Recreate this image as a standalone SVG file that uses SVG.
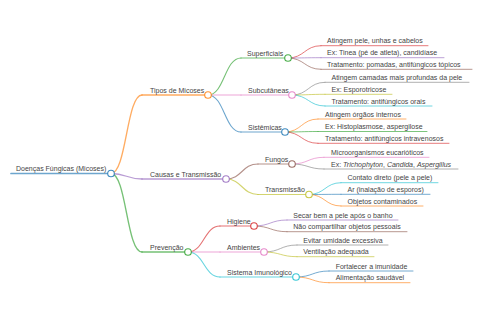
<svg xmlns="http://www.w3.org/2000/svg" width="480" height="320" viewBox="0 0 480 320">
<style>
text{font-family:"Liberation Sans",Arial,sans-serif;font-size:7px;fill:#444}
path,line{fill:none;stroke-linecap:round}
circle{fill:#fff;stroke-width:1.1}
.w0{stroke-width:1.7}.w1{stroke-width:1.3}.w2{stroke-width:1.1}.w3{stroke-width:0.95}
.blue{stroke:#1f77b4}.orange{stroke:#ff7f0e}.green{stroke:#2ca02c}.red{stroke:#d62728}.purple{stroke:#9467bd}
.brown{stroke:#8c564b}.pink{stroke:#e377c2}.gray{stroke:#7f7f7f}.olive{stroke:#bcbd22}.cyan{stroke:#17becf}
g line,#connectors path{stroke-opacity:.65}
circle{stroke-opacity:.85}
</style>
<rect width="480" height="320" fill="#fff"/>
<g id="connectors">
<path class="orange w1" d="M111,173.5 C126.5,173.5 126.5,95 142,95"/>
<path class="purple w1" d="M111,173.5 C126.5,173.5 126.5,179 142,179"/>
<path class="green w1" d="M111,173.5 C126.5,173.5 126.5,252 142,252"/>
<path class="green w2" d="M208,95 C224.5,95 224.5,58 241,58"/>
<path class="pink w2" d="M208,95 L241,95"/>
<path class="blue w2" d="M208,95 C224.5,95 224.5,132 241,132"/>
<path class="brown w2" d="M226,179 C242,179 242,164 258,164"/>
<path class="olive w2" d="M226,179 C242,179 242,194.5 258,194.5"/>
<path class="red w2" d="M188,252 C204,252 204,226 220,226"/>
<path class="pink w2" d="M188,252 L220,252"/>
<path class="cyan w2" d="M188,252 C204,252 204,277 220,277"/>
<path class="red w3" d="M288,58 C304.5,58 304.5,45.7 321,45.7"/>
<path class="purple w3" d="M288,58 C304.5,58 304.5,57.7 321,57.7"/>
<path class="brown w3" d="M288,58 C304.5,58 304.5,69.3 321,69.3"/>
<path class="gray w3" d="M292,95 C308.5,95 308.5,82.3 325,82.3"/>
<path class="olive w3" d="M292,95 C308.5,95 308.5,94.3 325,94.3"/>
<path class="cyan w3" d="M292,95 C308.5,95 308.5,106 325,106"/>
<path class="orange w3" d="M285,132 C301.5,132 301.5,119 318,119"/>
<path class="green w3" d="M285,132 C301.5,132 301.5,131.5 318,131.5"/>
<path class="red w3" d="M285,132 C301.5,132 301.5,143.3 318,143.3"/>
<path class="pink w3" d="M292,164 C308,164 308,157.3 324,157.3"/>
<path class="gray w3" d="M292,164 C308,164 308,169 324,169"/>
<path class="cyan w3" d="M309,194.5 C325,194.5 325,182.7 341,182.7"/>
<path class="blue w3" d="M309,194.5 C325,194.5 325,194.3 341,194.3"/>
<path class="orange w3" d="M309,194.5 C325,194.5 325,206 341,206"/>
<path class="purple w3" d="M254,226 C270.5,226 270.5,220 287,220"/>
<path class="brown w3" d="M254,226 C270.5,226 270.5,231.7 287,231.7"/>
<path class="gray w3" d="M264,252 C280.5,252 280.5,245 297,245"/>
<path class="olive w3" d="M264,252 C280.5,252 280.5,256.7 297,256.7"/>
<path class="blue w3" d="M296,277 C312.5,277 312.5,271 329,271"/>
<path class="orange w3" d="M296,277 C312.5,277 312.5,282.7 329,282.7"/>
</g>
<g id="root"><line class="blue w0" x1="11" y1="173.5" x2="111" y2="173.5"/><circle class="blue" cx="111" cy="173.5" r="3.3"/><text x="16" y="171">Doenças Fúngicas (Micoses)</text></g>
<g id="tipos"><line class="orange w1" x1="142" y1="95" x2="208" y2="95"/><circle class="orange" cx="208" cy="95" r="3.3"/><text x="150" y="92.5">Tipos de Micoses</text></g>
<g id="causas"><line class="purple w1" x1="142" y1="179" x2="226" y2="179"/><circle class="purple" cx="226" cy="179" r="3.3"/><text x="150" y="176.5">Causas e Transmissão</text></g>
<g id="prevencao"><line class="green w1" x1="142" y1="252" x2="188" y2="252"/><circle class="green" cx="188" cy="252" r="3.3"/><text x="150" y="249.5">Prevenção</text></g>
<g id="superficiais"><line class="green w2" x1="241" y1="58" x2="288" y2="58"/><circle class="green" cx="288" cy="58" r="3.3"/><text x="247" y="55.5">Superficiais</text></g>
<g id="subcutaneas"><line class="pink w2" x1="241" y1="95" x2="292" y2="95"/><circle class="pink" cx="292" cy="95" r="3.3"/><text x="248" y="92.5">Subcutâneas</text></g>
<g id="sistemicas"><line class="blue w2" x1="241" y1="132" x2="285" y2="132"/><circle class="blue" cx="285" cy="132" r="3.3"/><text x="248" y="129.5">Sistêmicas</text></g>
<g id="fungos"><line class="brown w2" x1="258" y1="164" x2="292" y2="164"/><circle class="brown" cx="292" cy="164" r="3.3"/><text x="265" y="161.5">Fungos</text></g>
<g id="transmissao"><line class="olive w2" x1="258" y1="194.5" x2="309" y2="194.5"/><circle class="olive" cx="309" cy="194.5" r="3.3"/><text x="265" y="192">Transmissão</text></g>
<g id="higiene"><line class="red w2" x1="220" y1="226" x2="254" y2="226"/><circle class="red" cx="254" cy="226" r="3.3"/><text x="227" y="223.5">Higiene</text></g>
<g id="ambientes"><line class="pink w2" x1="220" y1="252" x2="264" y2="252"/><circle class="pink" cx="264" cy="252" r="3.3"/><text x="227" y="249.5">Ambientes</text></g>
<g id="imunologico"><line class="cyan w2" x1="220" y1="277" x2="296" y2="277"/><circle class="cyan" cx="296" cy="277" r="3.3"/><text x="227" y="274.5">Sistema Imunológico</text></g>
<g id="sup1"><line class="red w3" x1="321" y1="45.7" x2="428" y2="45.7"/><text x="327" y="43.2">Atingem pele, unhas e cabelos</text></g>
<g id="sup2"><line class="purple w3" x1="321" y1="57.7" x2="444" y2="57.7"/><text x="327" y="55.2">Ex: Tinea (pé de atleta), candidíase</text></g>
<g id="sup3"><line class="brown w3" x1="321" y1="69.3" x2="472" y2="69.3"/><text x="327" y="66.8">Tratamento: pomadas, antifúngicos tópicos</text></g>
<g id="sub1"><line class="gray w3" x1="325" y1="82.3" x2="469" y2="82.3"/><text x="331.5" y="79.8">Atingem camadas mais profundas da pele</text></g>
<g id="sub2"><line class="olive w3" x1="325" y1="94.3" x2="392" y2="94.3"/><text x="331.5" y="91.8">Ex: Esporotricose</text></g>
<g id="sub3"><line class="cyan w3" x1="325" y1="106" x2="432" y2="106"/><text x="331.5" y="103.5">Tratamento: antifúngicos orais</text></g>
<g id="sis1"><line class="orange w3" x1="318" y1="119" x2="406" y2="119"/><text x="325" y="116.5">Atingem órgãos internos</text></g>
<g id="sis2"><line class="green w3" x1="318" y1="131.5" x2="427" y2="131.5"/><text x="325" y="129">Ex: Histoplasmose, aspergilose</text></g>
<g id="sis3"><line class="red w3" x1="318" y1="143.3" x2="449" y2="143.3"/><text x="325" y="140.8">Tratamento: antifúngicos intravenosos</text></g>
<g id="fun1"><line class="pink w3" x1="324" y1="157.3" x2="429" y2="157.3"/><text x="331" y="154.8">Microorganismos eucarióticos</text></g>
<g id="fun2"><line class="gray w3" x1="324" y1="169" x2="458" y2="169"/><text x="331" y="166.5">Ex: <tspan font-style="italic">Trichophyton</tspan>, <tspan font-style="italic">Candida</tspan>, <tspan font-style="italic">Aspergillus</tspan></text></g>
<g id="tra1"><line class="cyan w3" x1="341" y1="182.7" x2="438" y2="182.7"/><text x="347.5" y="180.2">Contato direto (pele a pele)</text></g>
<g id="tra2"><line class="blue w3" x1="341" y1="194.3" x2="430" y2="194.3"/><text x="347.5" y="191.8">Ar (inalação de esporos)</text></g>
<g id="tra3"><line class="orange w3" x1="341" y1="206" x2="423" y2="206"/><text x="347.5" y="203.5">Objetos contaminados</text></g>
<g id="hig1"><line class="purple w3" x1="287" y1="220" x2="398" y2="220"/><text x="293.3" y="217.5">Secar bem a pele após o banho</text></g>
<g id="hig2"><line class="brown w3" x1="287" y1="231.7" x2="407" y2="231.7"/><text x="293.3" y="229.2">Não compartilhar objetos pessoais</text></g>
<g id="amb1"><line class="gray w3" x1="297" y1="245" x2="388" y2="245"/><text x="303.3" y="242.5">Evitar umidade excessiva</text></g>
<g id="amb2"><line class="olive w3" x1="297" y1="256.7" x2="374" y2="256.7"/><text x="303.3" y="254.2">Ventilação adequada</text></g>
<g id="imu1"><line class="blue w3" x1="329" y1="271" x2="413" y2="271"/><text x="335.7" y="268.5">Fortalecer a imunidade</text></g>
<g id="imu2"><line class="orange w3" x1="329" y1="282.7" x2="410" y2="282.7"/><text x="335.7" y="280.2">Alimentação saudável</text></g>
</svg>
